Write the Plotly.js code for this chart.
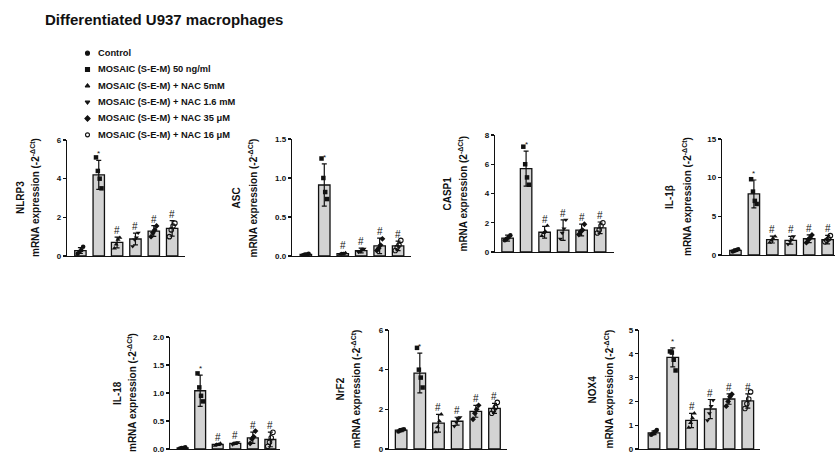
<!DOCTYPE html>
<html><head><meta charset="utf-8">
<script src="https://cdn.plot.ly/plotly-3.0.1.min.js"></script>
<style>html,body{margin:0;padding:0;background:#fff}#c{width:835px;height:457px}</style>
</head><body><div id="c"></div>
<script>
// ---- data ----
const groupLabels = ['Control','MOSAIC (S-E-M) 50 ng/ml','MOSAIC (S-E-M) + NAC 5mM','MOSAIC (S-E-M) + NAC 1.6 mM','MOSAIC (S-E-M) + NAC 35 \u03bcM','MOSAIC (S-E-M) + NAC 16 \u03bcM'];
const groupSymbols = ['circle','square','triangle-up','triangle-down','diamond','circle-open'];
const sigMarks = ['', '*', '#', '#', '#', '#'];
const genes = ['NLRP3','ASC','CASP1','IL-1\u03b2','IL-18','NrF2','NOX4'];
const yUnits = ['(-2<sup>-\u0394Ct</sup>)','(-2<sup>-\u0394Ct</sup>)','(2<sup>-\u0394Ct</sup>)','(-2<sup>-\u0394Ct</sup>)','(-2<sup>-\u0394Ct</sup>)','(-2<sup>-\u0394Ct</sup>)','(-2<sup>-\u0394Ct</sup>)'];

const nlrp3Mean = [0.28, 4.2, 0.7, 0.88, 1.29, 1.43];
const nlrp3Sd   = [0.15, 0.75, 0.28, 0.3, 0.28, 0.4];
const nlrp3Pts  = [[0.12,0.22,0.3,0.48],[5.1,4.4,4.0,3.5],[0.4,0.6,0.85,0.95],[0.5,0.85,0.95,1.2],[1.0,1.2,1.35,1.55],[1.0,1.35,1.55,1.7]];

const ascMean = [0.02, 0.91, 0.03, 0.07, 0.13, 0.13];
const ascSd   = [0.01, 0.27, 0.015, 0.03, 0.1, 0.06];
const ascPts  = [[0.01,0.02,0.02,0.03],[1.25,1.0,0.82,0.73],[0.02,0.03,0.03,0.04],[0.05,0.06,0.08,0.09],[0.07,0.1,0.14,0.22],[0.07,0.11,0.14,0.2]];

const casp1Mean = [0.95, 5.7, 1.35, 1.5, 1.5, 1.65];
const casp1Sd   = [0.2, 1.2, 0.4, 0.7, 0.4, 0.4];
const casp1Pts  = [[0.8,0.9,1.0,1.15],[7.2,6.0,5.1,4.6],[1.1,1.3,1.4,1.8],[0.9,1.3,1.6,2.2],[1.2,1.4,1.5,1.9],[1.3,1.5,1.8,2.0]];

const il1bMean = [0.6, 7.9, 2.0, 1.9, 2.1, 2.0];
const il1bSd   = [0.15, 1.8, 0.45, 0.5, 0.5, 0.55];
const il1bPts  = [[0.45,0.55,0.65,0.75],[9.8,8.2,7.0,6.6],[1.6,1.9,2.1,2.4],[1.4,1.8,2.0,2.4],[1.6,2.0,2.2,2.6],[1.7,1.9,2.1,2.5]];

const il18Mean = [0.02, 1.04, 0.08, 0.1, 0.2, 0.17];
const il18Sd   = [0.01, 0.28, 0.015, 0.02, 0.1, 0.13];
const il18Pts  = [[0.01,0.02,0.02,0.03],[1.35,1.1,0.95,0.85],[0.06,0.08,0.08,0.1],[0.08,0.1,0.11,0.12],[0.1,0.18,0.22,0.32],[0.05,0.12,0.2,0.3]];

const nrf2Mean = [0.95, 3.83, 1.3, 1.4, 1.9, 2.05];
const nrf2Sd   = [0.08, 1.0, 0.45, 0.2, 0.3, 0.25];
const nrf2Pts  = [[0.88,0.93,0.97,1.0],[5.1,4.0,3.6,3.1],[0.85,1.1,1.4,1.75],[1.15,1.35,1.5,1.6],[1.5,1.8,2.0,2.2],[1.8,1.95,2.1,2.35]];

const nox4Mean = [0.68, 3.85, 1.2, 1.68, 2.1, 2.02];
const nox4Sd   = [0.08, 0.4, 0.3, 0.4, 0.22, 0.3];
const nox4Pts  = [[0.6,0.65,0.72,0.8],[4.1,4.05,3.75,3.3],[0.9,1.1,1.3,1.5],[1.2,1.5,1.8,2.05],[1.8,2.0,2.2,2.3],[1.7,1.9,2.1,2.4]];

const yMax = [6, 1.5, 8, 15, 2, 6, 5];
const yDtick = [2, 0.5, 2, 5, 0.5, 2, 1];

// ---- layout config (pixels) ----
const W = 835, H = 457;
const panels = [
  {mean:nlrp3Mean, sd:nlrp3Sd, pts:nlrp3Pts, x0:67,  x1:185, y0:140, y1:256, xr:[-0.73,5.7],  gx:20,  mx:35,  fmt:''},
  {mean:ascMean,   sd:ascSd,   pts:ascPts,   x0:292, x1:411, y0:139, y1:256, xr:[-0.75,5.7],  gx:236, mx:252, fmt:'.1f'},
  {mean:casp1Mean, sd:casp1Sd, pts:casp1Pts, x0:495, x1:614, y0:135, y1:252, xr:[-0.68,5.75], gx:447, mx:462, fmt:''},
  {mean:il1bMean,  sd:il1bSd,  pts:il1bPts,  x0:722, x1:835, y0:139, y1:255, xr:[-0.73,5.4],  gx:670, mx:687, fmt:''},
  {mean:il18Mean,  sd:il18Sd,  pts:il18Pts,  x0:170, x1:280, y0:337, y1:449, xr:[-0.72,5.55], gx:117, mx:132, fmt:'.1f'},
  {mean:nrf2Mean,  sd:nrf2Sd,  pts:nrf2Pts,  x0:389, x1:507, y0:330, y1:449, xr:[-0.65,5.67], gx:340, mx:355, fmt:''},
  {mean:nox4Mean,  sd:nox4Sd,  pts:nox4Pts,  x0:639, x1:760, y0:330, y1:449, xr:[-0.8,5.65],  gx:592, mx:608, fmt:''}
];

const FONT = 'Liberation Sans, Arial, sans-serif';
const traces = [];
const layout = {
  width: W, height: H, margin:{l:0,r:0,t:0,b:0},
  paper_bgcolor:'#fff', plot_bgcolor:'rgba(0,0,0,0)',
  showlegend:false, font:{family:FONT, color:'#111'},
  title:{text:'Differentiated U937 macrophages', x:45/W, xanchor:'left', y:1-20/H, yanchor:'middle',
         font:{family:FONT, size:15, weight:'bold', color:'#111'}},
  annotations: []
};

panels.forEach((p, k) => {
  const n = k + 1;
  const xa = 'x' + n, ya = 'y' + n;
  const cats = p.mean.map((_, i) => i);
  layout['xaxis' + n] = {
    domain:[p.x0/W, p.x1/W], range:p.xr, anchor:ya, showline:true, linecolor:'#111', linewidth:1.3,
    showgrid:false, zeroline:false, showticklabels:false, ticks:'', fixedrange:true
  };
  layout['yaxis' + n] = {
    domain:[1-p.y1/H, 1-p.y0/H], range:[0, yMax[k]], anchor:xa, showline:true, linecolor:'#111', linewidth:1.3,
    showgrid:false, zeroline:false, ticks:'outside', ticklen:3, tickwidth:1.2, tickcolor:'#111',
    dtick:yDtick[k], tick0:0, tickformat:p.fmt,
    tickfont:{family:FONT, size:8, weight:'bold', color:'#111'}, fixedrange:true
  };
  traces.push({
    type:'bar', x:cats, y:p.mean, xaxis:xa, yaxis:ya, width:0.62,
    marker:{color:'#d3d3d3', line:{color:'#111', width:1.3}},
    error_y:{type:'data', array:p.sd, visible:true, color:'#111', thickness:1.2, width:2.5},
    hoverinfo:'skip'
  });
  p.pts.forEach((vals, g) => {
    const xs = vals.map((_, j) => g + (j - (vals.length - 1) / 2) * 0.1);
    const open = groupSymbols[g].indexOf('open') >= 0;
    traces.push({
      type:'scatter', mode:'markers', x:xs, y:vals, xaxis:xa, yaxis:ya,
      marker:{symbol:groupSymbols[g], size:4.5, color:'#111', line:{color:'#111', width: open ? 1.1 : 0}},
      hoverinfo:'skip'
    });
  });
  cats.forEach(i => {
    if (!sigMarks[i]) return;
    layout.annotations.push({
      xref:xa, yref:ya, x:i, y:p.mean[i] + p.sd[i], text:sigMarks[i], showarrow:false,
      xanchor:'center', yanchor:'bottom', yshift: sigMarks[i] === '*' ? 0 : -1,
      font:{family:FONT, size: sigMarks[i] === '*' ? 8 : 10, color:'#111'}
    });
  });
  const yc = 1 - ((p.y0 + p.y1) / 2) / H;
  layout.annotations.push({
    xref:'paper', yref:'paper', x:p.gx/W, y:yc, text:genes[k], textangle:-90, showarrow:false,
    xanchor:'center', yanchor:'middle', font:{family:FONT, size:10, weight:'bold', color:'#111'}
  });
  layout.annotations.push({
    xref:'paper', yref:'paper', x:p.mx/W, y:yc, text:'mRNA expression ' + yUnits[k], textangle:-90, showarrow:false,
    xanchor:'center', yanchor:'middle', font:{family:FONT, size:10, weight:'bold', color:'#111'}
  });
});

// legend drawn on hidden axis
const lgIdx = groupLabels.map((_, i) => i);
layout.xaxis8 = {domain:[80/W, 330/W], range:[0,1], visible:false, anchor:'y8', fixedrange:true};
layout.yaxis8 = {domain:[1-143/H, 1-45/H], range:[5.5,-0.5], visible:false, anchor:'x8', fixedrange:true};
traces.push({
  type:'scatter', mode:'markers', x:lgIdx.map(() => 0.03), y:lgIdx, xaxis:'x8', yaxis:'y8',
  marker:{symbol:groupSymbols, size:4, color:'#111', line:{color:'#111', width:1.1}}, hoverinfo:'skip'
});
lgIdx.forEach(i => {
  layout.annotations.push({
    xref:'x8', yref:'y8', x:0.065, y:i, text:groupLabels[i], showarrow:false,
    xanchor:'left', yanchor:'middle', font:{family:FONT, size:9.3, weight:'bold', color:'#111'}
  });
});

Plotly.newPlot('c', traces, layout, {displayModeBar:false, staticPlot:true});
</script></body></html>
